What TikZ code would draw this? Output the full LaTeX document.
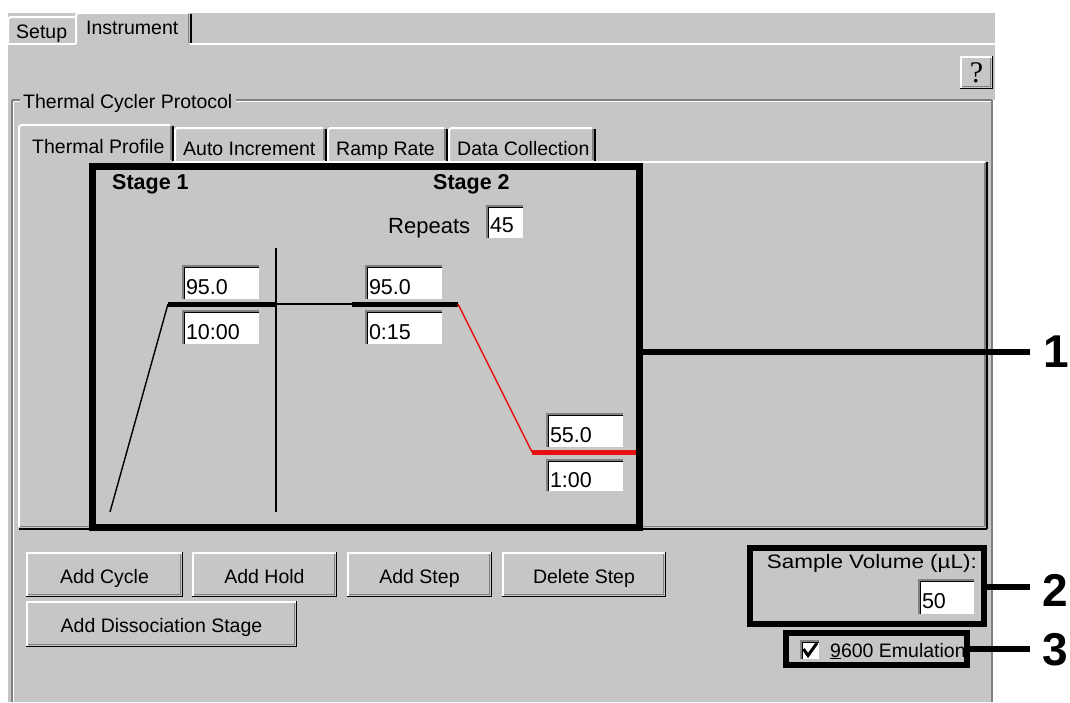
\documentclass[tikz,border=0pt]{standalone}
\usepackage{fontspec}
\setmainfont{Liberation Sans}
\newfontfamily\qfont{Liberation Serif}
\usepackage{graphicx}
\definecolor{win}{RGB}{198,198,198}
\definecolor{wgrey}{RGB}{128,128,128}
\definecolor{redl}{RGB}{232,16,16}
\newcommand\uifont{\fontsize{19.5}{22}\selectfont}
\newcommand\fldfont{\fontsize{21.5}{24}\selectfont}
\newcommand\stgfont{\fontsize{21.5}{24}\selectfont\bfseries}
\newcommand\repfont{\fontsize{22}{25}\selectfont}
\newcommand\numfont{\fontsize{46}{50}\selectfont\bfseries}
\begin{document}
\begin{tikzpicture}[x=1pt,y=-1pt,
  txt/.style={inner sep=0pt, anchor=base west, font=\uifont},
  field/.style={fill=white, inner xsep=4pt, inner ysep=0pt, outer sep=0pt, anchor=north west, font=\fldfont, align=left, minimum height=35pt, text height=24pt, text depth=1pt},
  button/.style={fill=win, inner sep=0pt, outer sep=0pt, anchor=north west, font=\uifont, minimum height=45pt, text height=18pt, text depth=1pt},
  hlbox/.style={draw=black, line width=7pt, inner sep=0pt, outer sep=0pt, anchor=north west},
  callline/.style={line width=5.5pt, black},
  callnum/.style={inner sep=0pt, font=\numfont},
  hl/.style={white, line width=2pt},
  dk/.style={black, line width=2pt},
  sh/.style={wgrey, line width=1.5pt},
  plotthick/.style={line width=5pt},
  plotthin/.style={line width=1.4pt}
]
\useasboundingbox (0,0) rectangle (1070,702);
\fill[white] (0,0) rectangle (1070,702);
\fill[win] (8,13) rectangle (995,702);

% ---- top tabs
\draw[hl] (8,44) -- (8,19) -- (10,17) -- (75,17);
\draw[hl] (8,44) -- (76,44);
\draw[hl] (76,44) -- (76,15) -- (78,13) -- (188,13);
\draw[sh] (188.5,14) -- (188.5,43);
\draw[dk] (190.5,14) -- (190.5,44);
\draw[hl] (190,44) -- (995,44);
\node[txt] (sSetup) at (16,38) {Setup};
\node[txt] (sInstr) at (86,34) {Instrument};

% ---- help button
\node[button, minimum width=33pt, minimum height=33pt, text height=20pt, text depth=0pt, font=\qfont\fontsize{30}{32}\selectfont] (bHelp) at (960,56) {?};

% ---- group box
\draw[wgrey, line width=1.2pt] (12,100) -- (20,100) (236,100) -- (992,100) (12,100) -- (12,702) (992,100) -- (992,702);
\draw[white, line width=1.2pt] (13.5,101.5) -- (20,101.5) (236,101.5) -- (990.5,101.5) (13.5,101.5) -- (13.5,702) (994,100) -- (994,702);
\node[txt] (sTCP) at (23,108) {Thermal Cycler Protocol};

% ---- sub tabs
\draw[hl] (19,162) -- (19,127) -- (21,125) -- (170,125);
\draw[sh] (171,126) -- (171,160);
\draw[dk] (172.5,126) -- (172.5,161);
\draw[hl] (175,161) -- (175,130) -- (177,128) -- (323,128);
\draw[sh] (324,129) -- (324,160);
\draw[dk] (325.5,129) -- (325.5,161);
\draw[hl] (328,161) -- (328,130) -- (330,128) -- (444,128);
\draw[sh] (445,129) -- (445,160);
\draw[dk] (446.5,129) -- (446.5,161);
\draw[hl] (449,161) -- (449,130) -- (451,128) -- (592,128);
\draw[sh] (593,129) -- (593,160);
\draw[dk] (594.5,129) -- (594.5,161);
\node[txt] (sTP) at (32,153) {Thermal Profile};
\node[txt] (sAI) at (183,155) {Auto Increment};
\node[txt] (sRR) at (336,155) {Ramp Rate};
\node[txt] (sDC) at (457,155) {Data Collection};

% ---- tab panel
\draw[hl] (173,162) -- (985,162);
\draw[hl] (19,162) -- (19,527);
\draw[sh] (985,163) -- (985,526);
\draw[sh] (20,526.5) -- (985,526.5);
\draw[dk] (987,162) -- (987,528.5);
\draw[dk] (19,528.5) -- (987,528.5);

% ---- thermal profile
\node[txt, font=\stgfont] (st1) at (112,189) {Stage 1};
\node[txt, font=\stgfont] (st2) at (433,189) {Stage 2};
\node[txt, font=\repfont] (rep) at (388,233) {Repeats};
\node[field, text width=30pt, minimum height=34pt, text height=22pt] (frep) at (486,205) {45};

\draw[line width=2pt] (276,248) -- (276,512);
\draw[plotthin] (110,512) -- (168,304);
\draw[plotthick] (168,304) -- (276,304);
\draw[line width=1.6pt] (276,304) -- (352,304);
\draw[plotthick] (352,304) -- (458,304);
\draw[plotthin, redl] (458,304) -- (532,452);
\draw[plotthick, redl] (532,452) -- (640,452);

\node[field, text width=70pt] (f951) at (182,265) {95.0};
\node[field, text width=70pt] (f1000) at (182,310) {10:00};
\node[field, text width=70pt] (f952) at (365,265) {95.0};
\node[field, text width=70pt] (f015) at (365,310) {0:15};
\node[field, text width=70pt] (f550) at (546,413) {55.0};
\node[field, text width=70pt, minimum height=33pt] (f100) at (546,459) {1:00};

% ---- buttons
\node[button, minimum width=157pt] (bCycle) at (26,552) {Add Cycle};
\node[button, minimum width=145pt] (bHold) at (192,552) {Add Hold};
\node[button, minimum width=145pt] (bStep) at (347,552) {Add Step};
\node[button, minimum width=164pt] (bDel) at (502,552) {Delete Step};
\node[button, minimum width=271pt, minimum height=46pt] (bDiss) at (26,601) {Add Dissociation Stage};

% ---- sample volume and emulation
\node[txt, anchor=base east] (svol) at (977,568) {\scalebox{1.15}[1]{Sample Volume (µL):}};
\node[field, text width=49pt, minimum height=36pt] (fvol) at (918,579) {50};
\node[field, minimum width=20pt, minimum height=20pt, inner sep=0pt, text height=0pt, text depth=0pt] (cbox) at (800,640) {};
\draw[line width=3pt] ([shift={(3.5,9)}]cbox.north west) -- ([shift={(8,15.5)}]cbox.north west) -- ([shift={(17,3)}]cbox.north west);
\node[txt] (emu) at (830,657) {\underline{9}600 Emulation};

% ---- bevels
\foreach \n in {frep,f951,f1000,f952,f015,f550,f100,fvol,cbox}{
  \draw[wgrey, line width=1.5pt] ([xshift=0.75pt]\n.south west) -- ([xshift=0.75pt,yshift=-0.75pt]\n.north west) -- ([yshift=-0.75pt]\n.north east);
  \draw[black, line width=1.5pt] ([xshift=2.25pt]\n.south west) -- ([xshift=2.25pt,yshift=-2.25pt]\n.north west) -- ([yshift=-2.25pt]\n.north east);
  \draw[win, line width=1.5pt] ([xshift=-0.75pt]\n.north east) -- ([xshift=-0.75pt,yshift=0.75pt]\n.south east) -- ([yshift=0.75pt]\n.south west);
}
\foreach \n in {bHelp,bCycle,bHold,bStep,bDel,bDiss}{
  \draw[white, line width=2pt] ([xshift=1pt]\n.south west) -- ([xshift=1pt,yshift=-1pt]\n.north west) -- ([yshift=-1pt]\n.north east);
  \draw[wgrey, line width=1.5pt] ([xshift=2pt,yshift=2.75pt]\n.south west) -- ([xshift=-2.75pt,yshift=2.75pt]\n.south east) -- ([xshift=-2.75pt,yshift=-2pt]\n.north east);
  \draw[black, line width=1.5pt] ([yshift=0.75pt]\n.south west) -- ([xshift=-0.75pt,yshift=0.75pt]\n.south east) -- ([xshift=-0.75pt]\n.north east);
}

% ---- highlight boxes and callouts
\node[hlbox, minimum width=546.5pt, minimum height=361pt] (box1) at (92.5,166) {};
\node[hlbox, line width=6pt, minimum width=234pt, minimum height=76pt] (box2) at (750,548) {};
\node[hlbox, line width=6pt, minimum width=181pt, minimum height=32pt] (box3) at (786,633) {};

\coordinate (c1) at (1030,352);
\coordinate (c2) at (1030,587);
\coordinate (c3) at (1030,649);
\draw[callline] (box1.east |- c1) -- (c1);
\draw[callline] (box2.east |- c2) -- (c2);
\draw[callline] (box3.east |- c3) -- (c3);
\node[callnum] (l1) at (1056,352) {1};
\node[callnum] (l2) at (1055,590) {2};
\node[callnum] (l3) at (1055,650) {3};
\end{tikzpicture}
\end{document}
